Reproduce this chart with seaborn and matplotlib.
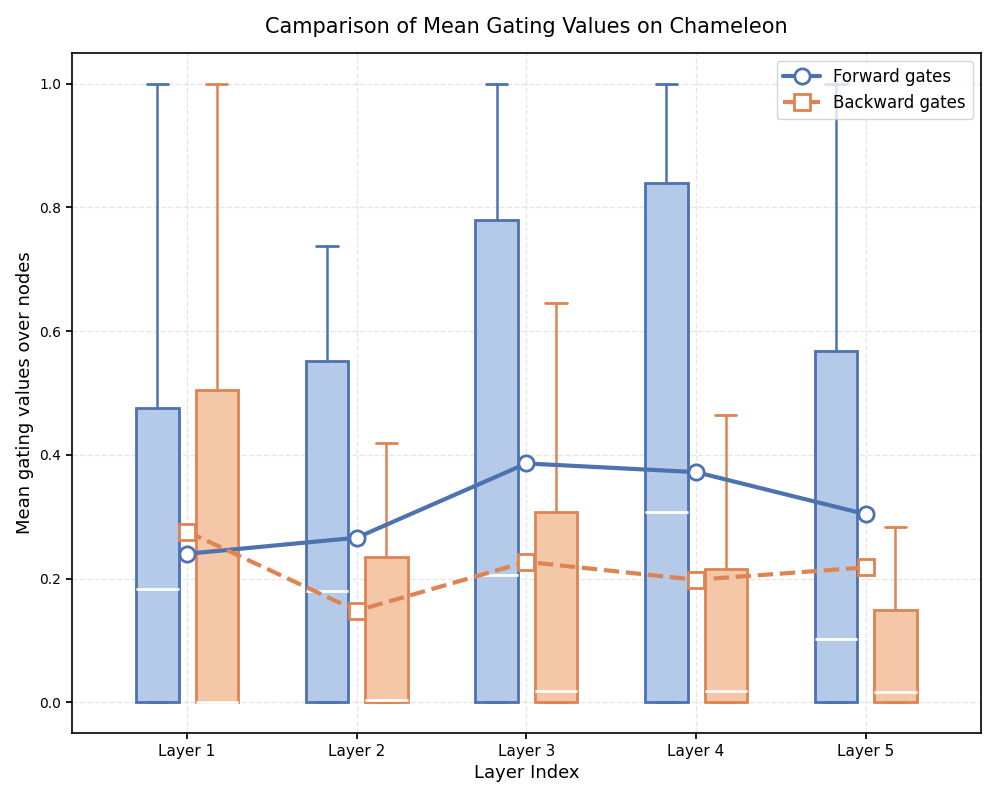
import matplotlib
matplotlib.use("Agg")
import matplotlib.pyplot as plt
import numpy as np
import pandas as pd
import seaborn as sns

# Data
layers = ["Layer 1", "Layer 2", "Layer 3", "Layer 4", "Layer 5"]

fwd_q1 = [0.0, 0.0, 0.0, 0.0, 0.0]
fwd_median = [0.183, 0.180, 0.205, 0.307, 0.102]
fwd_q3 = [0.476, 0.552, 0.779, 0.839, 0.567]
fwd_whisker_hi = [1.0, 0.737, 1.0, 1.0, 1.0]
fwd_mean = [0.240, 0.266, 0.386, 0.372, 0.304]

bwd_q1 = [0.0, 0.0, 0.0, 0.0, 0.0]
bwd_median = [0.0, 0.003, 0.019, 0.019, 0.016]
bwd_q3 = [0.505, 0.235, 0.308, 0.216, 0.149]
bwd_whisker_hi = [1.0, 0.419, 0.646, 0.464, 0.283]
bwd_mean = [0.276, 0.148, 0.227, 0.198, 0.218]

sns.set_theme(style="white")
plt.rcParams.update({
    "text.color": "black",
    "axes.labelcolor": "black",
    "xtick.color": "black",
    "ytick.color": "black",
})
blue, orange = sns.color_palette("deep")[0], sns.color_palette("deep")[1]
blue_fill, orange_fill = "#B5CAE8", "#F3C7A7"

fig, ax = plt.subplots(figsize=(9.96, 7.97), dpi=100)


def make_stats(q1, med, q3, hi):
    return [
        {"q1": a, "med": m, "q3": c, "whislo": a, "whishi": h, "fliers": []}
        for a, m, c, h in zip(q1, med, q3, hi)
    ]


x = np.arange(len(layers))
offset = 0.175
for stats, color, fill, shift in [
    (make_stats(fwd_q1, fwd_median, fwd_q3, fwd_whisker_hi), blue, blue_fill, -offset),
    (make_stats(bwd_q1, bwd_median, bwd_q3, bwd_whisker_hi), orange, orange_fill, offset),
]:
    ax.bxp(
        stats,
        positions=x + shift,
        widths=0.25,
        patch_artist=True,
        showfliers=False,
        boxprops=dict(facecolor=fill, edgecolor=color, linewidth=2),
        whiskerprops=dict(color=color, linewidth=1.8),
        capprops=dict(color=color, linewidth=2),
        medianprops=dict(color="white", linewidth=2),
        manage_ticks=False,
    )

# Mean lines
df = pd.DataFrame({
    "x": np.concatenate([x, x]),
    "mean": fwd_mean + bwd_mean,
    "gate": ["Forward gates"] * len(x) + ["Backward gates"] * len(x),
})
sns.lineplot(
    data=df[df["gate"] == "Forward gates"], x="x", y="mean", ax=ax,
    color=blue, linewidth=3, marker="o", markersize=11,
    markerfacecolor="white", markeredgecolor=blue, markeredgewidth=2,
    label="Forward gates", zorder=4,
)
sns.lineplot(
    data=df[df["gate"] == "Backward gates"], x="x", y="mean", ax=ax,
    color=orange, linewidth=3, linestyle="--", marker="s", markersize=11,
    markerfacecolor="white", markeredgecolor=orange, markeredgewidth=2,
    label="Backward gates", zorder=4,
)

ax.set_xticks(x)
ax.set_xticklabels(layers, fontsize=11)
ax.set_xlim(-0.68, 4.68)
ax.set_ylim(-0.05, 1.05)
ax.set_yticks([0.0, 0.2, 0.4, 0.6, 0.8, 1.0])
ax.tick_params(axis="y", labelsize=10, left=True, length=4)
ax.tick_params(axis="x", bottom=True, length=4)
ax.grid(True, linestyle="--", color="#e0e0e0", linewidth=1, alpha=0.8)
ax.set_axisbelow(True)
for s in ax.spines.values():
    s.set_color("black")
    s.set_linewidth(1.2)

ax.set_xlabel("Layer Index", fontsize=13)
ax.set_ylabel("Mean gating values over nodes", fontsize=13)
ax.set_title("Camparison of Mean Gating Values on Chameleon", fontsize=15, pad=14)
ax.legend(loc="upper right", fontsize=12, frameon=True, handlelength=2.2)

fig.subplots_adjust(left=0.072, right=0.985, top=0.934, bottom=0.08)
fig.savefig("out.png", dpi=100)
